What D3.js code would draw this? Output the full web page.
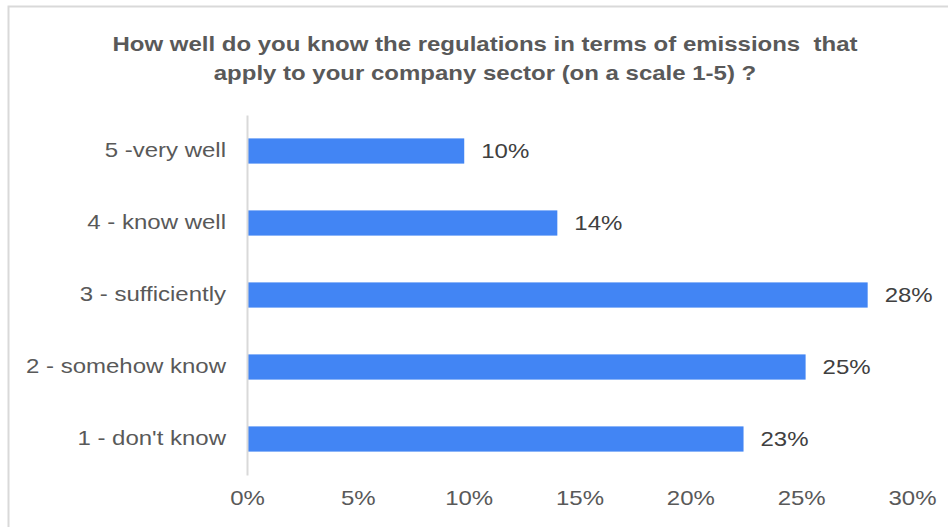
<!DOCTYPE html>
<html>
<head>
<meta charset="utf-8">
<script src="https://cdn.jsdelivr.net/npm/d3@7"></script>
<style>
body{margin:0;background:#fff}
text{font-family:"Liberation Sans",Arial,sans-serif}
</style>
</head>
<body>
<div id="chart"></div>
<script>
var categories=["5 -very well","4 - know well","3 - sufficiently","2 - somehow know","1 - don't know"]
var values=[9.8,14.0,28.0,25.2,22.4]
var valueLabels=["10%","14%","28%","25%","23%"]
var tickValues=[0,5,10,15,20,25,30]
var titleLines=["How well do you know the regulations in terms of emissions  that","apply to your company sector (on a scale 1-5) ?"]

var width=948,height=527
var sx=1.2   // the picture is stretched sideways
var grey="#595959"

var svg=d3.select("#chart").append("svg")
	.attr("width",width)
	.attr("height",height)

// outer frame
svg.append("rect")
	.attr("x",8.5).attr("y",6.5)
	.attr("width",width+20).attr("height",height+20)
	.attr("fill","none")
	.attr("stroke","#d9d9d9")
	.attr("stroke-width",2)

var x=d3.scaleLinear().domain([0,30]).range([247,912])
var y=d3.scaleBand().domain(categories).range([115,475]).paddingInner(0.65).paddingOuter(0.325)

// title
svg.selectAll(".title")
	.data(titleLines)
	.enter()
	.append("text")
	.attr("class","title")
	.attr("transform",function(d,i){return "translate(485,"+(51+i*29)+") scale("+sx+",1)"})
	.attr("text-anchor","middle")
	.attr("font-size","20px")
	.attr("font-weight","bold")
	.attr("fill",grey)
	.style("white-space","pre")
	.text(function(d){return d})

// bars
svg.selectAll(".bar")
	.data(values)
	.enter()
	.append("rect")
	.attr("x",x(0)+1)
	.attr("y",function(d,i){return y(categories[i])})
	.attr("width",function(d){return x(d)-x(0)-1})
	.attr("height",y.bandwidth())
	.attr("fill","#4285f4")

// value labels
svg.selectAll(".val")
	.data(values)
	.enter()
	.append("text")
	.attr("transform",function(d,i){return "translate("+(x(d)+17)+","+(y(categories[i])+y.bandwidth()/2+7)+") scale("+sx+",1)"})
	.attr("font-size","20px")
	.attr("fill","#404040")
	.text(function(d,i){return valueLabels[i]})

// y axis
var yAxis=svg.append("g")
	.attr("transform","translate("+x(0)+",0)")
	.call(d3.axisLeft(y).tickSize(0).tickSizeOuter(0).tickPadding(21))
yAxis.select(".domain").attr("stroke","#d9d9d9").attr("stroke-width",2)
yAxis.selectAll("text")
	.attr("font-size","20px")
	.attr("font-family","Liberation Sans, Arial, sans-serif")
	.attr("fill",grey)
	.attr("x",-21/sx)
	.attr("transform","scale("+sx+",1)")

// x axis
var xAxis=svg.append("g")
	.attr("transform","translate(0,488)")
	.call(d3.axisBottom(x).tickValues(tickValues).tickSize(0).tickFormat(function(d){return d+"%"}))
xAxis.select(".domain").remove()
xAxis.selectAll("text")
	.attr("font-size","20px")
	.attr("font-family","Liberation Sans, Arial, sans-serif")
	.attr("fill",grey)
	.attr("transform","scale("+sx+",1)")
</script>
</body>
</html>
